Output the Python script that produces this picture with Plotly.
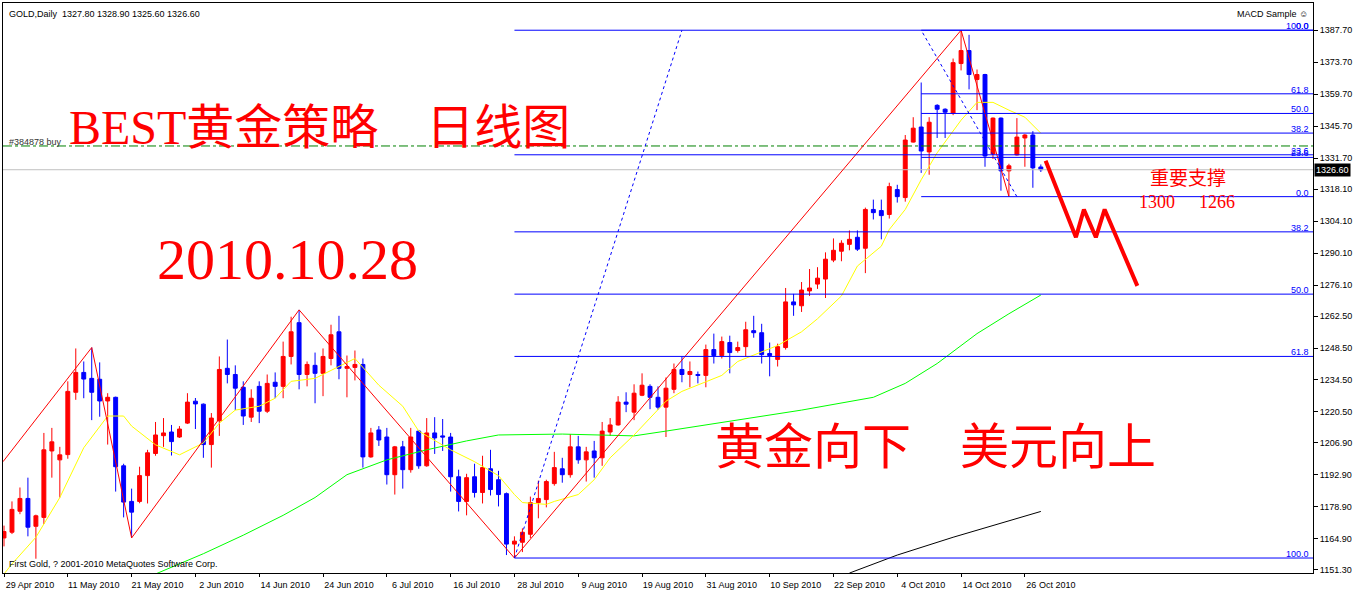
import plotly.graph_objects as go
import pandas as pd

# ---------------- data ----------------
dates = pd.bdate_range("2010-04-29", "2010-10-28")
bar = list(range(len(dates)))

opens = [1165.3, 1167.8, 1177.0, 1182.6, 1170.4, 1174.3, 1203.4, 1199.5, 1201.8, 1229.1,
         1237.8, 1235.2, 1234.8, 1225.3, 1226.9, 1196.9, 1181.3, 1181.3, 1192.6, 1202.3,
         1210.1, 1211.7, 1209.5, 1215.6, 1225.2, 1223.9, 1206.2, 1216.6, 1239.6, 1236.9,
         1231.3, 1218.2, 1231.7, 1220.8, 1233.5, 1231.7, 1244.8, 1259.6, 1236.9, 1240.9,
         1237.4, 1243.9, 1255.6, 1239.6, 1240.0, 1241.3, 1200.8, 1212.6, 1209.5, 1193.0,
         1205.2, 1195.2, 1212.1, 1196.9, 1211.3, 1210.0, 1209.5, 1192.1, 1181.3, 1192.1,
         1185.2, 1195.6, 1190.8, 1184.7, 1162.6, 1163.4, 1166.9, 1180.8, 1182.1, 1189.1,
         1195.6, 1193.0, 1205.2, 1199.5, 1203.4, 1200.4, 1211.7, 1214.8, 1224.8, 1220.4,
         1227.8, 1231.7, 1226.9, 1222.6, 1230.4, 1239.1, 1236.9, 1236.9, 1236.5, 1247.8,
         1245.2, 1250.9, 1247.4, 1249.1, 1256.1, 1255.2, 1246.1, 1243.5, 1248.7, 1268.7,
         1267.0, 1273.5, 1276.5, 1278.7, 1287.0, 1290.9, 1293.9, 1297.0, 1292.2, 1309.2,
         1308.7, 1307.0, 1317.9, 1314.4, 1338.7, 1345.3, 1334.4, 1354.8, 1353.1, 1351.3,
         1373.1, 1378.8, 1366.1, 1368.3, 1333.5, 1349.2, 1326.1, 1333.1, 1340.5, 1341.8,
         1327.8]
highs = [1170.7, 1181.3, 1187.4, 1191.7, 1175.5, 1211.3, 1213.5, 1205.2, 1233.9, 1248.3,
         1242.6, 1248.7, 1242.2, 1228.7, 1227.2, 1197.8, 1186.9, 1196.5, 1203.9, 1216.1,
         1217.8, 1214.8, 1214.3, 1228.7, 1226.6, 1224.2, 1220.0, 1244.8, 1252.2, 1240.9,
         1233.9, 1230.4, 1233.9, 1236.9, 1237.8, 1251.3, 1262.2, 1265.2, 1242.6, 1246.5,
         1248.3, 1258.7, 1262.6, 1245.2, 1247.4, 1243.9, 1213.5, 1214.3, 1213.5, 1205.6,
         1207.8, 1213.5, 1212.6, 1217.8, 1218.2, 1217.4, 1211.3, 1195.2, 1193.4, 1197.8,
         1201.3, 1203.9, 1194.7, 1185.2, 1166.0, 1169.5, 1183.4, 1190.4, 1190.8, 1203.0,
         1200.4, 1210.8, 1210.0, 1205.2, 1207.8, 1216.1, 1217.8, 1227.4, 1229.1, 1232.6,
         1237.4, 1232.6, 1231.7, 1235.6, 1241.7, 1244.8, 1242.6, 1238.2, 1250.0, 1254.8,
         1253.5, 1253.9, 1251.3, 1260.0, 1262.6, 1259.1, 1250.9, 1250.4, 1274.8, 1272.2,
         1277.4, 1283.1, 1283.9, 1290.4, 1296.5, 1295.7, 1300.0, 1300.0, 1310.0, 1313.5,
         1313.5, 1320.9, 1320.0, 1341.8, 1349.6, 1364.8, 1349.6, 1355.3, 1353.5, 1375.3,
         1387.7, 1385.7, 1370.5, 1368.6, 1349.5, 1349.5, 1329.2, 1349.2, 1342.2, 1343.5,
         1328.9]
lows = [1161.6, 1167.0, 1175.7, 1166.0, 1156.2, 1171.4, 1191.7, 1183.0, 1200.0, 1225.8,
        1226.5, 1216.9, 1218.4, 1206.2, 1185.6, 1174.3, 1165.3, 1180.5, 1180.4, 1201.3,
        1205.2, 1201.4, 1209.1, 1215.2, 1213.0, 1200.4, 1196.1, 1210.0, 1233.0, 1221.3,
        1214.8, 1216.1, 1215.6, 1220.0, 1226.5, 1226.5, 1241.3, 1230.4, 1231.7, 1224.3,
        1227.4, 1240.9, 1234.8, 1226.9, 1234.3, 1196.1, 1200.4, 1205.6, 1188.7, 1184.3,
        1186.9, 1193.9, 1195.6, 1196.5, 1202.1, 1203.4, 1185.6, 1176.9, 1175.2, 1183.0,
        1180.4, 1183.9, 1179.1, 1157.8, 1156.5, 1159.1, 1165.2, 1173.9, 1178.7, 1188.2,
        1189.5, 1191.7, 1197.8, 1190.0, 1191.7, 1196.9, 1210.0, 1214.5, 1220.4, 1216.9,
        1227.4, 1221.7, 1221.5, 1209.5, 1228.7, 1233.5, 1231.3, 1233.0, 1231.3, 1241.7,
        1243.9, 1237.4, 1246.5, 1244.8, 1253.0, 1241.7, 1236.1, 1240.4, 1247.8, 1262.6,
        1264.3, 1271.3, 1274.4, 1270.4, 1286.1, 1286.5, 1291.3, 1291.0, 1281.3, 1304.8,
        1296.1, 1305.2, 1312.2, 1312.6, 1338.5, 1325.2, 1324.4, 1340.5, 1340.5, 1350.5,
        1370.1, 1361.8, 1352.7, 1327.9, 1331.3, 1317.4, 1314.8, 1332.8, 1327.9, 1318.7,
        1325.6]
closes = [1168.1, 1177.8, 1182.6, 1170.0, 1175.0, 1203.9, 1207.4, 1201.7, 1229.5, 1237.8,
          1234.9, 1229.1, 1225.3, 1226.9, 1196.5, 1181.0, 1176.6, 1192.6, 1202.6, 1210.4,
          1211.3, 1207.5, 1213.0, 1224.8, 1224.0, 1206.2, 1217.8, 1239.1, 1236.9, 1230.9,
          1218.7, 1226.5, 1220.8, 1233.0, 1231.7, 1244.8, 1255.6, 1236.9, 1241.3, 1237.4,
          1244.8, 1254.3, 1239.6, 1240.4, 1241.3, 1200.8, 1211.3, 1208.2, 1193.0, 1205.2,
          1195.2, 1209.5, 1196.9, 1211.3, 1209.1, 1209.5, 1192.1, 1181.3, 1191.7, 1185.2,
          1196.1, 1186.5, 1184.3, 1162.6, 1163.9, 1167.8, 1180.8, 1182.6, 1190.0, 1196.1,
          1193.0, 1205.2, 1199.5, 1203.0, 1200.4, 1212.1, 1214.8, 1224.8, 1223.9, 1228.7,
          1232.2, 1226.9, 1222.6, 1230.9, 1239.1, 1236.9, 1238.2, 1236.5, 1247.8, 1245.2,
          1251.3, 1246.5, 1248.7, 1256.5, 1255.2, 1245.6, 1245.2, 1249.1, 1268.7, 1267.4,
          1273.9, 1274.8, 1279.1, 1287.4, 1291.3, 1294.4, 1296.1, 1291.8, 1309.2, 1307.8,
          1306.5, 1319.2, 1314.8, 1339.6, 1344.8, 1334.8, 1347.4, 1353.1, 1351.8, 1373.5,
          1378.8, 1368.3, 1368.3, 1332.6, 1349.2, 1326.1, 1328.3, 1340.9, 1341.8, 1327.4,
          1326.6]

# moving averages (bar index, price)
ma_fast_x = [0, 1, 4, 7, 10, 13, 15, 16, 19, 22, 25, 27, 29, 32, 34, 36, 39, 41, 44, 47,
             50, 52, 56, 59, 62, 64, 65, 68, 69, 72, 74, 76, 79, 81, 83, 85, 88, 90, 92, 95,
             97, 100, 102, 105, 107, 110, 111, 113, 115, 117, 120, 122, 124, 126, 128, 130]
ma_fast = [1149.5, 1153.9, 1165.6, 1183.0, 1204.8, 1218.7, 1218.7, 1214.3, 1206.1, 1201.7,
           1206.9, 1215.6, 1221.3, 1223.0, 1226.5, 1233.9, 1235.2, 1238.7, 1243.9, 1232.2,
           1223.0, 1212.1, 1203.9, 1198.7, 1192.6, 1184.3, 1180.8, 1180.0, 1181.3, 1184.3,
           1190.8, 1200.4, 1210.4, 1217.8, 1225.2, 1229.5, 1233.9, 1236.5, 1242.6, 1246.9,
           1249.6, 1255.6, 1261.3, 1271.3, 1284.4, 1293.1, 1300.4, 1309.2, 1322.2, 1334.0,
           1348.3, 1356.1, 1356.1, 1352.7, 1349.6, 1342.6]
ma_mid_x = [19, 25, 30, 35, 39, 43, 48, 53, 58, 62, 70, 75, 79, 83, 88, 95, 100, 109, 113,
            117, 122, 126, 130]
ma_mid = [1149.5, 1158.4, 1166.5, 1175.2, 1183.0, 1193.0, 1199.5, 1203.9, 1207.8, 1210.4,
          1210.8, 1210.4, 1210.0, 1212.1, 1214.8, 1218.7, 1221.3, 1226.9, 1233.0, 1241.7,
          1254.8, 1263.5, 1271.7]
ma_slow_x = [106, 112, 119, 125, 130]
ma_slow = [1149.9, 1157.8, 1165.6, 1171.7, 1176.9]

# zigzag indicator
zz_x = [-0.125, 11, 16, 37, 64, 120, 126]
zz_y = [1198.7, 1248.7, 1165.3, 1265.2, 1156.5, 1387.7, 1314.8]

# hand-drawn forecast path
path_x = [130.6, 134.4, 135.4, 136.9, 138.0, 142.1]
path_y = [1330.5, 1297.0, 1309.2, 1297.0, 1309.2, 1275.7]

# Fibonacci objects: (x1, price1) -> (x2, price2)
fib_levels = [0.0, 23.6, 38.2, 50.0, 61.8, 100.0]
fibA = dict(x1=64, p1=1156.5, x2=85, p2=1387.7)    # 0 at top, 100 at bottom
fibB = dict(x1=127, p1=1314.8, x2=115, p2=1387.7)  # 0 at bottom, 100 at top

order_price = 1337.0
bid_price = 1326.6

y_ticks = [1387.70, 1373.70, 1359.70, 1345.70, 1331.70, 1318.10, 1304.10, 1290.10, 1276.10,
           1262.50, 1248.50, 1234.50, 1220.50, 1206.90, 1192.90, 1178.90, 1164.90, 1151.30]

X_MIN, X_MAX = -0.125, 164.125
Y_MIN, Y_MAX = 1149.94, 1399.63

RED = "#FF0000"
BLUE = "#0000FF"
SMALL = dict(family="Liberation Sans, DejaVu Sans, sans-serif", size=9, color="#000000")
BIG = "Liberation Serif, Noto Sans CJK SC, serif"

fig = go.Figure()

fig.add_trace(go.Candlestick(
    x=bar, open=opens, high=highs, low=lows, close=closes,
    increasing=dict(line=dict(color=RED, width=1), fillcolor=RED),
    decreasing=dict(line=dict(color=BLUE, width=1), fillcolor=BLUE),
    whiskerwidth=0, hoverinfo="none", showlegend=False))

fig.add_trace(go.Scatter(x=ma_slow_x, y=ma_slow, mode="lines",
                         line=dict(color="#000000", width=1), hoverinfo="skip", showlegend=False))
fig.add_trace(go.Scatter(x=ma_mid_x, y=ma_mid, mode="lines",
                         line=dict(color="#00FF00", width=1), hoverinfo="skip", showlegend=False))
fig.add_trace(go.Scatter(x=ma_fast_x, y=ma_fast, mode="lines",
                         line=dict(color="#FFFF00", width=1), hoverinfo="skip", showlegend=False))

# bid line and order line
fig.add_trace(go.Scatter(x=[X_MIN, X_MAX], y=[bid_price, bid_price], mode="lines",
                         line=dict(color="#C0C0C0", width=1), hoverinfo="skip", showlegend=False))
fig.add_trace(go.Scatter(x=[X_MIN, X_MAX], y=[order_price, order_price], mode="lines",
                         line=dict(color="#008000", width=1, dash="dashdot"),
                         hoverinfo="skip", showlegend=False))

# zigzag
fig.add_trace(go.Scatter(x=zz_x, y=zz_y, mode="lines", line=dict(color=RED, width=1),
                         hoverinfo="skip", showlegend=False))

annotations = []

def add_fib(f, top_is_zero):
    lo = min(f["p1"], f["p2"])
    hi = max(f["p1"], f["p2"])
    xs, ys = [], []
    start = min(f["x1"], f["x2"])
    for lv in fib_levels:
        if top_is_zero:
            p = hi - lv / 100.0 * (hi - lo)
        else:
            p = lo + lv / 100.0 * (hi - lo)
        xs += [start, X_MAX, None]
        ys += [p, p, None]
        annotations.append(dict(x=X_MAX, y=p, xref="x", yref="y", text=f"{lv:.1f}",
                                showarrow=False, xanchor="right", yanchor="bottom",
                                xshift=-2, yshift=-3, font=dict(SMALL, color=BLUE)))
    fig.add_trace(go.Scatter(x=xs, y=ys, mode="lines", line=dict(color=BLUE, width=1),
                             hoverinfo="skip", showlegend=False))
    fig.add_trace(go.Scatter(x=[f["x1"], f["x2"]], y=[f["p1"], f["p2"]], mode="lines",
                             line=dict(color=BLUE, width=1, dash="dot"),
                             hoverinfo="skip", showlegend=False))

add_fib(fibA, True)
add_fib(fibB, False)

# forecast path
fig.add_trace(go.Scatter(x=path_x, y=path_y, mode="lines", line=dict(color=RED, width=4),
                         hoverinfo="skip", showlegend=False))

NB = "\u00a0"
annotations += [
    dict(x=0, y=1, xref="paper", yref="paper", xanchor="left", yanchor="top",
         xshift=4, yshift=-4, showarrow=False,
         text=f"GOLD,Daily{NB}{NB}1327.80{NB}1328.90{NB}1325.60{NB}1326.60", font=SMALL),
    dict(x=1, y=1, xref="paper", yref="paper", xanchor="right", yanchor="top",
         xshift=-3, yshift=-4, showarrow=False, text="MACD Sample ☺", font=SMALL),
    dict(x=0, y=order_price, xref="paper", yref="y", xanchor="left", yanchor="bottom",
         xshift=4, yshift=-3, showarrow=False, text="#384878 buy",
         font=dict(SMALL, color="#333333")),
    dict(x=0, y=0, xref="paper", yref="paper", xanchor="left", yanchor="bottom",
         xshift=4, yshift=2, showarrow=False,
         text="First Gold, ? 2001-2010 MetaQuotes Software Corp.", font=SMALL),
    dict(x=1, y=bid_price, xref="paper", yref="y", xanchor="left", yanchor="middle",
         xshift=1, showarrow=False, text="1326.60", bgcolor="#000000", borderpad=1,
         font=dict(SMALL, color="#FFFFFF")),
    dict(x=39.6, y=1345.3, xref="x", yref="y", showarrow=False,
         text="BEST黄金策略\u3000日线图", font=dict(family=BIG, size=48, color=RED)),
    dict(x=35.5, y=1287.4, xref="x", yref="y", showarrow=False,
         text="2010.10.28", font=dict(family=BIG, size=58, color=RED)),
    dict(x=116.75, y=1204.75, xref="x", yref="y", showarrow=False,
         text="黄金向下\u3000美元向上", font=dict(family=BIG, size=49, color=RED)),
    dict(x=148.4, y=1322.6, xref="x", yref="y", showarrow=False,
         text="重要支撑", font=dict(family=BIG, size=19, color=RED)),
    dict(x=144.6, y=1312.6, xref="x", yref="y", showarrow=False,
         text="1300", font=dict(family=BIG, size=18, color=RED)),
    dict(x=152.1, y=1312.6, xref="x", yref="y", showarrow=False,
         text="1266", font=dict(family=BIG, size=18, color=RED)),
]

x_tick_idx = list(range(0, len(dates), 8))
x_tick_txt = [f"{dates[i].day} {dates[i].strftime('%b %Y')}" for i in x_tick_idx]

fig.update_layout(
    width=1354, height=592,
    margin=dict(l=2, r=38, t=2, b=16),
    paper_bgcolor="#FFFFFF", plot_bgcolor="#FFFFFF",
    showlegend=False,
    annotations=annotations,
    xaxis=dict(range=[X_MIN, X_MAX], showgrid=False, zeroline=False,
               showline=True, mirror=True, linecolor="#000000", linewidth=1,
               ticks="outside", ticklen=3, tickcolor="#000000",
               tickvals=x_tick_idx, ticktext=x_tick_txt, tickfont=SMALL,
               ticklabelshift=26, rangeslider=dict(visible=False), fixedrange=True),
    yaxis=dict(range=[Y_MIN, Y_MAX], side="right", showgrid=False, zeroline=False,
               showline=True, mirror=True, linecolor="#000000", linewidth=1,
               ticks="outside", ticklen=4, tickcolor="#000000",
               tickvals=y_ticks, ticktext=[f"{v:.2f}" for v in y_ticks], tickfont=SMALL,
               fixedrange=True),
)

fig.write_html("out.html", config={"displayModeBar": False},
               post_script="document.body.style.margin='0px';"
                           "document.body.style.overflow='hidden';")
